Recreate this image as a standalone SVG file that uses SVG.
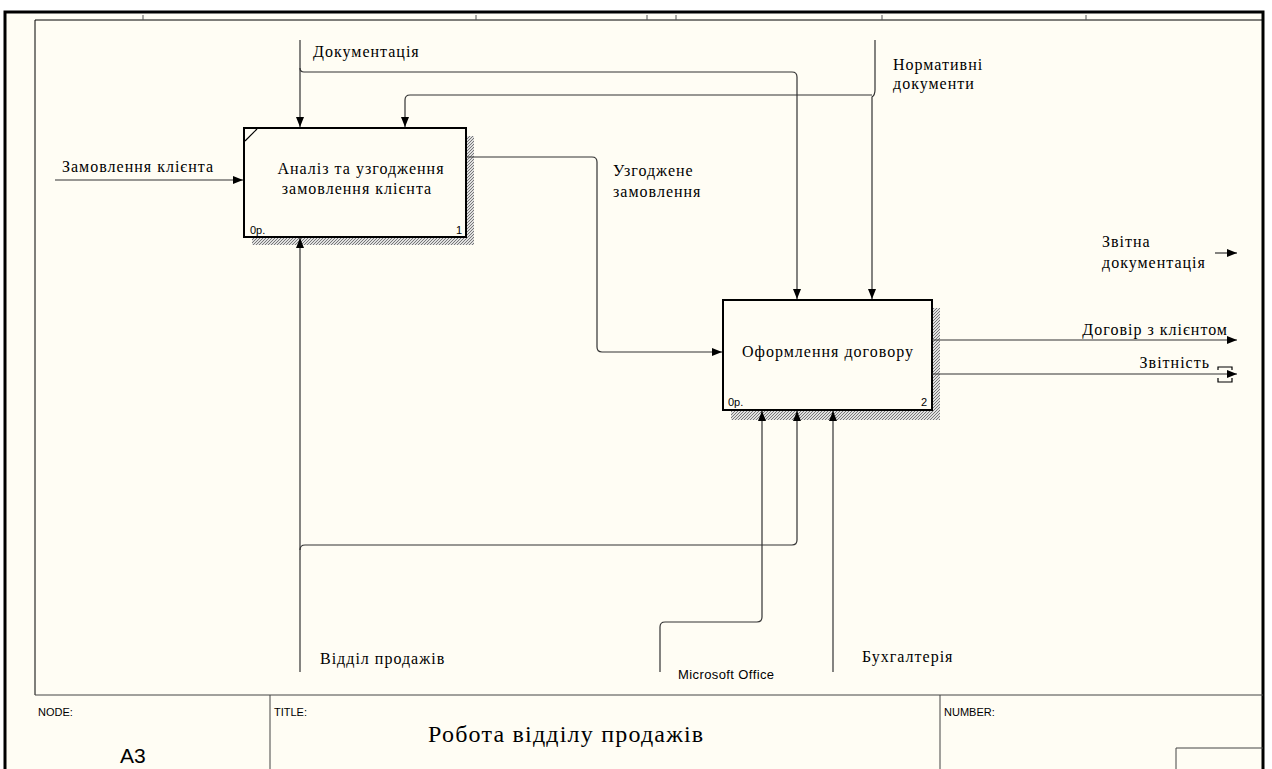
<svg xmlns="http://www.w3.org/2000/svg" width="1272" height="769" viewBox="0 0 1272 769">
<defs>
<marker id="arr" viewBox="0 0 10 8" refX="10" refY="4" markerWidth="10" markerHeight="8" markerUnits="userSpaceOnUse" orient="auto">
<path d="M0,0 L10,4 L0,8 z" fill="#000"/>
</marker>
<pattern id="hatch" width="3" height="3" patternUnits="userSpaceOnUse">
<rect width="3" height="3" fill="#e0e0e0"/>
<path d="M0,3 L3,0" stroke="#777" stroke-width="1"/>
</pattern>
<style>
.lbl{font-family:"Liberation Serif","Times New Roman",serif;font-size:16px;letter-spacing:1px;fill:#000}
.sans{font-family:"Liberation Sans",Arial,sans-serif;fill:#000}
.small{font-family:"Liberation Sans",Arial,sans-serif;font-size:11px;fill:#000}
.box{fill:#fffdf4;stroke:#000;stroke-width:2}
.con{fill:none;stroke:#333;stroke-width:1.2}
.frame{fill:none;stroke:#000}
</style>
</defs>
<rect width="1272" height="769" fill="#ffffff"/>
<rect x="5" y="12" width="1258" height="760" fill="#fffdf4"/>
<g id="frame">
<path class="frame" d="M5,769 V12 H1263 V769" stroke-width="3"/>
<path class="frame" d="M35,695 V20 H1263" stroke="#555" stroke-width="1"/>
<path d="M143,15 V20 M476,15 V20 M647,15 V20 M676,15 V20 M882,15 V20 M1086,15 V20" stroke="#555" stroke-width="1"/>
</g>
<g id="node1">
<rect x="252" y="136" width="222" height="109" fill="url(#hatch)"/>
<rect class="box" x="244" y="128" width="222" height="109"/>
<path d="M245,141 L257,129" stroke="#000" stroke-width="1.2"/>
<text class="lbl" x="361" y="174" text-anchor="middle">Аналіз та узгодження</text>
<text class="lbl" x="357" y="194" text-anchor="middle">замовлення клієнта</text>
<text class="small" x="250" y="234" font-size="12">0р.</text>
<text class="small" x="462" y="234" font-size="12" text-anchor="end">1</text>
</g>
<g id="node2">
<rect x="731" y="308" width="209" height="112" fill="url(#hatch)"/>
<rect class="box" x="723" y="300" width="209" height="110"/>
<text class="lbl" x="828" y="357" text-anchor="middle">Оформлення договору</text>
<text class="small" x="728" y="406" font-size="12">0р.</text>
<text class="small" x="927" y="406" font-size="12" text-anchor="end">2</text>
</g>
<g id="connectors">
<path class="con" d="M55,180 H243" marker-end="url(#arr)"/>
<path class="con" d="M300,40 V127" marker-end="url(#arr)"/>
<path class="con" d="M300,68 Q300,72 304,72 H792 Q797,72 797,77 V299" marker-end="url(#arr)"/>
<path class="con" d="M875,40 V90 Q875,95 872,97 V299" marker-end="url(#arr)"/>
<path class="con" d="M872,95 H410 Q405,95 405,100 V127" marker-end="url(#arr)"/>
<path class="con" d="M466,157 H592 Q597,157 597,162 V347 Q597,352 602,352 H722" marker-end="url(#arr)"/>
<path class="con" d="M932,340 H1237" marker-end="url(#arr)"/>
<path class="con" d="M932,374 H1237" marker-end="url(#arr)"/>
<path d="M1218,370 V367 H1232 V370 M1218,378 V382 H1232 V378" fill="none" stroke="#000" stroke-width="1.2"/>
<path class="con" d="M1215,253 H1237" marker-end="url(#arr)"/>
<path class="con" d="M300,672 V238" marker-end="url(#arr)"/>
<path class="con" d="M300,550 Q300,545 305,545 H792 Q797,545 797,540 V411" marker-end="url(#arr)"/>
<path class="con" d="M660,672 V627 Q660,622 665,622 H757 Q762,622 762,617 V411" marker-end="url(#arr)"/>
<path class="con" d="M833,672 V411" marker-end="url(#arr)"/>
</g>
<g id="labels">
<text class="lbl" x="62" y="172">Замовлення клієнта</text>
<text class="lbl" x="313" y="57">Документація</text>
<text class="lbl" x="893" y="70">Нормативні</text>
<text class="lbl" x="893" y="89">документи</text>
<text class="lbl" x="613" y="176">Узгоджене</text>
<text class="lbl" x="613" y="197">замовлення</text>
<text class="lbl" x="1102" y="247">Звітна</text>
<text class="lbl" x="1102" y="268">документація</text>
<text class="lbl" x="1228" y="335" text-anchor="end">Договір з клієнтом</text>
<text class="lbl" x="1210" y="368" text-anchor="end">Звітність</text>
<text class="lbl" x="320" y="664">Відділ продажів</text>
<text class="sans" x="678" y="679" font-size="13" letter-spacing="0.4">Microsoft Office</text>
<text class="lbl" x="862" y="662">Бухгалтерія</text>
</g>
<g id="titleblock">
<path d="M35,695 H1263 M270,695 V769 M940,695 V769 M1176,769 V748 H1263" fill="none" stroke="#444" stroke-width="1"/>
<text class="small" x="38" y="716">NODE:</text>
<text class="sans" x="120" y="763" font-size="21">A3</text>
<text class="small" x="274" y="716">TITLE:</text>
<text x="428" y="742" font-family="'Liberation Serif','Times New Roman',serif" font-size="24" letter-spacing="1.2">Робота відділу продажів</text>
<text class="small" x="944" y="716">NUMBER:</text>
</g>
</svg>
